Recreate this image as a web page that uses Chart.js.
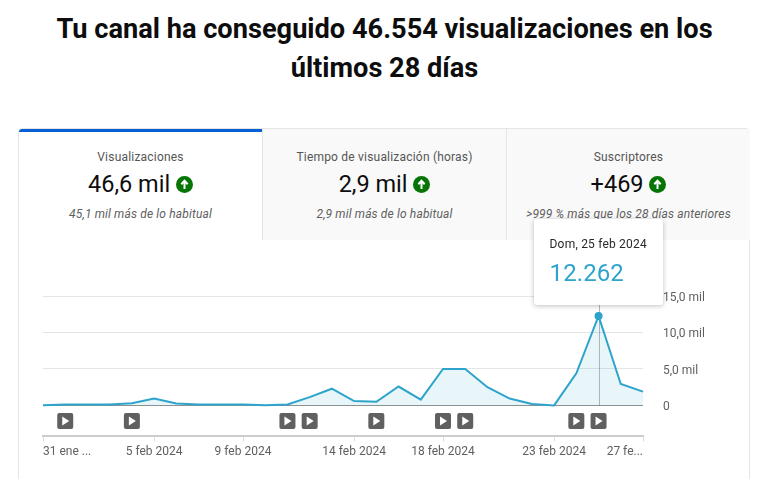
<!DOCTYPE html>
<html lang="es">

<head>
    <meta charset="UTF-8">
    <title>Visualizaciones</title>
    <script src="https://cdn.jsdelivr.net/npm/chart.js"></script>
    <style>
        html, body { margin: 0; padding: 0; width: 775px; height: 479px; overflow: hidden; background: #fff; font-family: Roboto, sans-serif; }
        h1 { position: absolute; left: 0; top: 10px; width: 769px; margin: 0; text-align: center; font-size: 27.2px; line-height: 39px; font-weight: 700; color: #0d0d0d; }
        .card { position: absolute; left: 18px; top: 128px; width: 732px; height: 360px; border: 1px solid #e5e5e5; border-radius: 4px 4px 0 0; box-sizing: border-box; }
        .tab { position: absolute; top: 0; height: 111px; text-align: center; box-sizing: border-box; background: #f9f9f9; border-left: 1px solid #e5e5e5; overflow: hidden; }
        .tab.on { background: #fff; border-left: 0; border-top: 3px solid #065fd4; border-radius: 3px 0 0 0; }
        .tab .name { position: absolute; left: 0; right: 0; top: 21px; font-size: 12px; line-height: 14px; font-weight: 400; letter-spacing: .2px; color: #555; }
        .tab.on .name { top: 18px; }
        .tab .val { position: absolute; left: 0; right: 0; top: 41px; font-size: 23.5px; line-height: 28px; color: #0d0d0d; }
        .tab.on .val { top: 38px; }
        .tab .sub { position: absolute; left: 0; right: 0; top: 78px; font-size: 12px; line-height: 14px; font-style: italic; letter-spacing: .15px; color: #606060; }
        .tab.on .sub { top: 75px; }
        .up { display: inline-block; width: 17px; height: 17px; margin-left: 0; vertical-align: -1px; }
        #chartWrap { position: absolute; left: 0; top: 240px; width: 775px; height: 239px; }
        #tip { position: absolute; top: 219px; width: 129px; height: 86px; background: #fff; border-radius: 3px; box-shadow: 0 1px 5px rgba(0,0,0,.25); box-sizing: border-box; padding: 18px 0 18px 16px; white-space: nowrap; z-index: 5; }
        #tip .d { font-size: 12px; line-height: 14px; font-weight: 400; letter-spacing: .2px; color: #282828; }
        #tip .v { font-size: 24px; line-height: 28px; margin-top: 8px; letter-spacing: .1px; color: #2ea4cc; }
    </style>
</head>

<body>

    <h1>Tu canal ha conseguido 46.554 visualizaciones en los<br>últimos 28 días</h1>

    <div class="card">
        <div class="tab on" style="left:0;width:243px">
            <div class="name">Visualizaciones</div>
            <div class="val">46,6 mil <svg class="up" viewBox="0 0 17 17"><circle cx="8.5" cy="8.5" r="8.5" fill="#067506"/><path d="M8.5 13V5M5.3 8.2L8.5 4.8l3.2 3.4" stroke="#fff" stroke-width="2" fill="none"/></svg></div>
            <div class="sub">45,1 mil más de lo habitual</div>
        </div>
        <div class="tab" style="left:243px;width:244px">
            <div class="name">Tiempo de visualización (horas)</div>
            <div class="val">2,9 mil <svg class="up" viewBox="0 0 17 17"><circle cx="8.5" cy="8.5" r="8.5" fill="#067506"/><path d="M8.5 13V5M5.3 8.2L8.5 4.8l3.2 3.4" stroke="#fff" stroke-width="2" fill="none"/></svg></div>
            <div class="sub">2,9 mil más de lo habitual</div>
        </div>
        <div class="tab" style="left:487px;width:244px">
            <div class="name">Suscriptores</div>
            <div class="val">+469 <svg class="up" viewBox="0 0 17 17"><circle cx="8.5" cy="8.5" r="8.5" fill="#067506"/><path d="M8.5 13V5M5.3 8.2L8.5 4.8l3.2 3.4" stroke="#fff" stroke-width="2" fill="none"/></svg></div>
            <div class="sub">&gt;999 % más que los 28 días anteriores</div>
        </div>
    </div>

    <div id="chartWrap"><canvas id="viewsChart" width="775" height="239"></canvas></div>

    <div id="tip">
        <div class="d">Dom, 25 feb 2024</div>
        <div class="v">12.262</div>
    </div>

    <script>
        const days = ["31 ene", "1 feb", "2 feb", "3 feb", "4 feb", "5 feb", "6 feb", "7 feb", "8 feb", "9 feb",
            "10 feb", "11 feb", "12 feb", "13 feb", "14 feb", "15 feb", "16 feb", "17 feb", "18 feb", "19 feb",
            "20 feb", "21 feb", "22 feb", "23 feb", "24 feb", "25 feb", "26 feb", "27 feb"];
        const views = [50, 150, 150, 150, 300, 950, 280, 150, 150, 150,
            20, 150, 1150, 2300, 600, 500, 2600, 800, 5000, 5000,
            2500, 950, 200, 10, 4400, 12262, 2950, 1900];
        const videoDays = ["1 feb", "4 feb", "11 feb", "12 feb", "15 feb", "18 feb", "19 feb", "24 feb", "25 feb"];
        const tickDays = ["31 ene", "5 feb", "9 feb", "14 feb", "18 feb", "23 feb", "27 feb"];
        const tickLabels = ["31 ene ...", "5 feb 2024", "9 feb 2024", "14 feb 2024", "18 feb 2024", "23 feb 2024", "27 fe..."];
        const yTicks = [0, 5000, 10000, 15000];
        const yTickLabels = ["0", "5,0 mil", "10,0 mil", "15,0 mil"];
        const activeDay = "25 feb";

        const activeIndex = days.indexOf(activeDay);

        // x labels and video markers don't fit the normal axis drawing
        const extras = {
            id: "extras",
            beforeDatasetsDraw(chart) {
                const c = chart.ctx, x = chart.scales.x, y = chart.scales.y;
                // hover line
                let px = x.getPixelForValue(activeIndex);
                c.save();
                c.strokeStyle = "rgba(0,0,0,0.28)";
                c.lineWidth = 1;
                c.beginPath();
                c.moveTo(Math.round(px) + 0.5, 65);
                c.lineTo(Math.round(px) + 0.5, y.getPixelForValue(0));
                c.stroke();
                c.restore();
            },
            afterDraw(chart) {
                const c = chart.ctx, x = chart.scales.x;
                c.save();
                videoDays.forEach(d => {
                    let px = x.getPixelForValue(days.indexOf(d));
                    c.fillStyle = "#606060";
                    c.beginPath();
                    c.roundRect(px - 8, 173, 16, 16, 2);
                    c.fill();
                    c.fillStyle = "#fff";
                    c.beginPath();
                    c.moveTo(px - 3, 176.5);
                    c.lineTo(px + 4, 181);
                    c.lineTo(px - 3, 185.5);
                    c.closePath();
                    c.fill();
                });
                c.font = "12px Roboto";
                c.fillStyle = "#606060";
                c.textBaseline = "middle";
                tickDays.forEach((d, i) => {
                    let px = x.getPixelForValue(days.indexOf(d));
                    c.textAlign = i === 0 ? "left" : (i === tickDays.length - 1 ? "right" : "center");
                    c.fillText(tickLabels[i], px, 212);
                });
                c.restore();
            }
        };

        const chart = new Chart(document.getElementById("viewsChart"), {
            type: "line",
            data: {
                labels: days,
                datasets: [{
                    data: views,
                    borderColor: "#2ea4cc",
                    borderWidth: 2,
                    backgroundColor: "rgba(46,164,204,0.11)",
                    fill: { value: 0 },
                    tension: 0,
                    pointRadius: ctx => ctx.dataIndex === activeIndex ? 4 : 0,
                    pointBackgroundColor: "#2ea4cc",
                    pointBorderWidth: 0
                }]
            },
            plugins: [extras],
            options: {
                responsive: false,
                animation: false,
                events: [],
                layout: { padding: { left: 43, top: 56 } },
                plugins: { legend: { display: false }, tooltip: { enabled: false } },
                scales: {
                    x: {
                        offset: false,
                        afterFit: s => { s.height = 43.5; },
                        ticks: { display: false, autoSkip: false },
                        border: { display: true, color: "#cccccc", width: 2 },
                        grid: {
                            drawOnChartArea: false,
                            tickLength: 6,
                            color: ctx => tickDays.includes(days[ctx.index]) ? "#dddddd" : "rgba(0,0,0,0)"
                        }
                    },
                    y: {
                        position: "right",
                        min: -4110,
                        max: 15000,
                        afterBuildTicks: s => { s.ticks = yTicks.map(v => ({ value: v })); },
                        afterFit: s => { s.width = 132; },
                        border: { display: false },
                        grid: {
                            drawTicks: false,
                            color: ctx => ctx.tick && ctx.tick.value === 0 ? "#909090" : "#e5e5e5"
                        },
                        ticks: {
                            padding: 20,
                            labelOffset: 2,
                            color: "#606060",
                            font: { family: "Roboto", size: 12 },
                            callback: v => yTickLabels[yTicks.indexOf(v)]
                        }
                    }
                }
            }
        });

        // tooltip box sits over the tabs so it is plain html
        document.getElementById("tip").style.left = (chart.scales.x.getPixelForValue(activeIndex) - 65) + "px";
    </script>

</body>

</html>
